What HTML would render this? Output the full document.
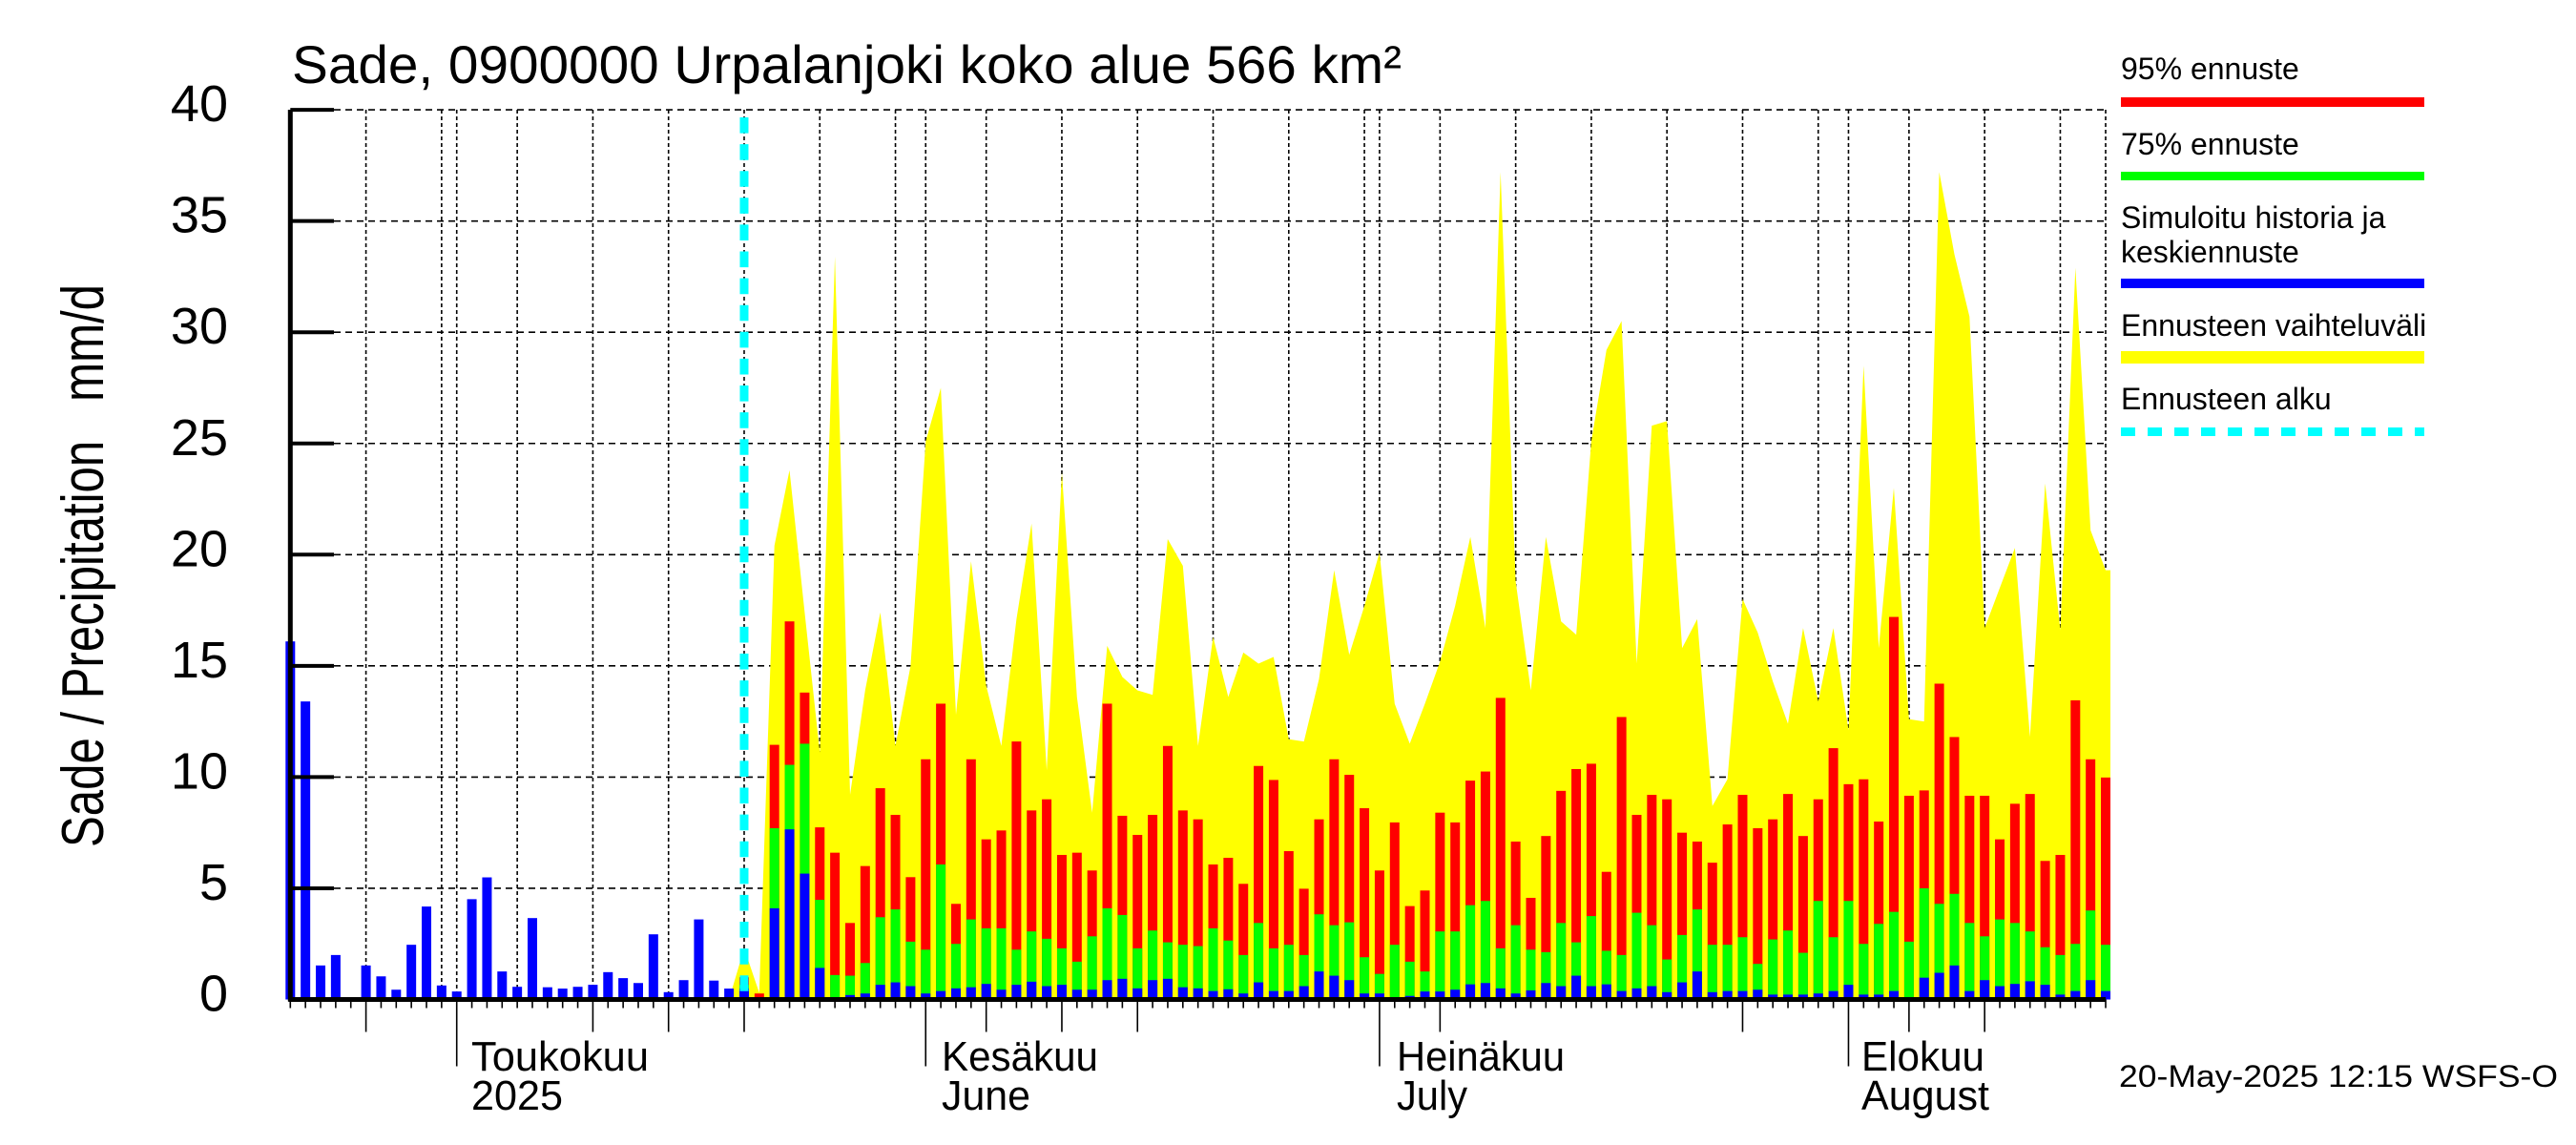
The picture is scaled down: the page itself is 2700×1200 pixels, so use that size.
<!DOCTYPE html>
<html><head><meta charset="utf-8"><style>
html,body{margin:0;padding:0;background:#fff;}
svg{display:block;font-family:"Liberation Sans",sans-serif;}
</style></head><body>
<svg id="chart" width="2700" height="1200" viewBox="0 0 2700 1200" xmlns="http://www.w3.org/2000/svg">
<rect x="0" y="0" width="2700" height="1200" fill="#fff"/>
<text x="306" y="87" font-size="56" textLength="1163" lengthAdjust="spacingAndGlyphs">Sade, 0900000 Urpalanjoki koko alue 566 km²</text>
<text x="0" y="0" font-size="62" text-anchor="middle" textLength="590" lengthAdjust="spacingAndGlyphs" style="white-space:pre" xml:space="preserve" transform="translate(108,593) rotate(-90)">Sade / Precipitation   mm/d</text>
<g id="grid"></g>
<g id="marks"></g>
<g id="axes"></g>
<g>
<text x="2223" y="83" font-size="32">95% ennuste</text>
<rect x="2223" y="102" width="318" height="10" fill="#ff0000"/>
<text x="2223" y="162" font-size="32">75% ennuste</text>
<rect x="2223" y="180" width="318" height="9" fill="#00ff00"/>
<text x="2223" y="239" font-size="32">Simuloitu historia ja</text>
<text x="2223" y="275" font-size="32">keskiennuste</text>
<rect x="2223" y="292" width="318" height="10" fill="#0000ff"/>
<text x="2223" y="352" font-size="32">Ennusteen vaihteluväli</text>
<rect x="2223" y="368" width="318" height="13" fill="#ffff00"/>
<text x="2223" y="429" font-size="32">Ennusteen alku</text>
<line x1="2223" y1="452.5" x2="2541" y2="452.5" stroke="#00ffff" stroke-width="9" stroke-dasharray="15 13"/>
</g>
<g>
<text x="494" y="1122" font-size="44" textLength="186" lengthAdjust="spacingAndGlyphs">Toukokuu</text>
<text x="494" y="1163" font-size="44" textLength="96" lengthAdjust="spacingAndGlyphs">2025</text>
<text x="987" y="1122" font-size="44" textLength="164" lengthAdjust="spacingAndGlyphs">Kesäkuu</text>
<text x="987" y="1163" font-size="44" textLength="93" lengthAdjust="spacingAndGlyphs">June</text>
<text x="1464" y="1122" font-size="44" textLength="176" lengthAdjust="spacingAndGlyphs">Heinäkuu</text>
<text x="1464" y="1163" font-size="44" textLength="74" lengthAdjust="spacingAndGlyphs">July</text>
<text x="1951" y="1122" font-size="44" textLength="129" lengthAdjust="spacingAndGlyphs">Elokuu</text>
<text x="1951" y="1163" font-size="44" textLength="134" lengthAdjust="spacingAndGlyphs">August</text>
</g>
<text x="2221" y="1139" font-size="32" textLength="460" lengthAdjust="spacingAndGlyphs">20-May-2025 12:15 WSFS-O</text>
</svg>
<script>
const history = [16.1,13.4,1.53,2.0,0,1.53,1.04,0.44,2.46,4.18,0.63,0.36,4.51,5.49,1.26,0.57,3.66,0.55,0.49,0.57,0.66,1.23,0.96,0.74,2.93,0.33,0.87,3.6,0.85,0.49];
const forecastStart = 30;
const fcRed = [1.0,0.27,11.45,17.0,13.8,7.74,6.6,3.44,6.0,9.5,8.3,5.5,10.8,13.3,4.3,10.8,7.2,7.6,11.6,8.5,9.0,6.5,6.6,5.8,13.3,8.26,7.4,8.3,11.4,8.5,8.1,6.07,6.37,5.2,10.5,9.87,6.67,4.98,8.1,10.8,10.1,8.6,5.8,7.96,4.2,4.9,8.4,7.96,9.84,10.25,13.56,7.1,4.57,7.35,9.38,10.36,10.6,5.74,12.7,8.3,9.2,9.0,7.5,7.1,6.15,7.87,9.2,7.7,8.1,9.24,7.35,9.0,11.3,9.68,9.9,8.0,17.2,9.16,9.4,14.2,11.8,9.16,9.16,7.2,8.8,9.24,6.23,6.5,13.45,10.8,9.98];
const fcGreen = [0.66,0,7.7,10.55,11.5,4.48,1.1,1.07,1.64,3.7,4.05,2.6,2.24,6.07,2.5,3.6,3.2,3.2,2.24,3.06,2.73,2.3,1.7,2.84,4.1,3.8,2.3,3.1,2.57,2.46,2.4,3.2,2.65,2.0,3.44,2.3,2.46,2.0,3.83,3.34,3.47,1.9,1.15,2.46,1.7,1.26,3.06,3.06,4.24,4.43,2.3,3.34,2.24,2.13,3.44,2.57,3.75,2.19,2.0,3.9,3.34,1.8,2.9,4.05,2.46,2.46,2.8,1.6,2.7,3.1,2.1,4.43,2.8,4.43,2.5,3.4,3.94,2.6,5.0,4.3,4.75,3.44,2.84,3.6,3.44,3.06,2.35,2.0,2.5,4.0,2.46];
const fcBlue = [0.5,0,4.1,7.65,5.66,1.42,0.05,0.2,0.27,0.66,0.77,0.6,0.27,0.38,0.5,0.55,0.7,0.44,0.66,0.8,0.6,0.66,0.44,0.44,0.87,0.93,0.5,0.87,0.93,0.55,0.5,0.38,0.46,0.27,0.77,0.38,0.38,0.6,1.26,1.07,0.87,0.27,0.27,0.1,0.16,0.36,0.36,0.44,0.68,0.74,0.5,0.27,0.41,0.74,0.6,1.07,0.6,0.68,0.38,0.5,0.6,0.33,0.77,1.26,0.33,0.38,0.38,0.44,0.22,0.22,0.22,0.27,0.38,0.66,0.22,0.22,0.38,0.1,0.98,1.2,1.53,0.38,0.87,0.6,0.7,0.82,0.66,0.22,0.38,0.87,0.38];
const fcYellow = [2.3,0.3,20.4,23.8,17.4,11.1,33.4,9.2,13.9,17.4,11.4,15.0,25.1,27.5,12.8,19.7,14.1,11.4,17.1,21.4,10.3,23.7,13.6,8.4,15.9,14.5,13.9,13.7,20.7,19.5,11.4,16.3,13.6,15.6,15.1,15.4,11.7,11.6,14.4,19.3,15.5,17.7,20.1,13.3,11.5,13.3,15.2,17.7,20.8,16.7,37.2,18.8,13.9,20.8,17.0,16.4,25.1,29.2,30.5,15.1,25.8,26.0,15.8,17.1,8.7,9.9,18.0,16.5,14.3,12.4,16.7,13.4,16.7,12.1,28.5,15.8,23.0,12.6,12.5,37.2,33.5,30.7,16.7,18.5,20.3,11.8,23.2,16.6,32.9,21.1,19.3];
const yTicks = [0,5,10,15,20,25,30,35,40];
const gridDays = [5,10,11,15,20,25,30,35,40,42,46,51,56,61,66,71,72,76,81,86,91,96,101,103,107,112,117];
const midTickDays = [5,20,25,30,46,51,56,76,96,107,112];
const monthDays = [11,42,72,103];
const nDays = 121;

const NS = "http://www.w3.org/2000/svg";
const X0 = 304.3, DX = 15.856, Y0 = 1047.5, DY = 23.31, XR = 2207, YT = 115;
function xs(i){ return X0 + i*DX; }
function ys(v){ return Y0 - v*DY; }
function mk(tag, attrs, parent){
  const e = document.createElementNS(NS, tag);
  for (const k in attrs) e.setAttribute(k, attrs[k]);
  parent.appendChild(e);
  return e;
}
const grid = document.getElementById('grid');
const marks = document.getElementById('marks');
const axes = document.getElementById('axes');

yTicks.forEach(function(v){
  const y = ys(v);
  if (v > 0) {
    const g = mk('line', {x1:350, y1:y, x2:XR, y2:y, stroke:'#000', 'stroke-width':1.6, 'stroke-dasharray':'7 5'}, grid);
    
    
  }
  const t = mk('line', {x1:X0, y1:y, x2:350, y2:y, stroke:'#000', 'stroke-width':4}, axes);
  
  
  const lb = mk('text', {x:239, y:y+12, 'font-size':54, 'text-anchor':'end'}, axes);
  lb.textContent = String(v);
  
  
});
gridDays.forEach(function(d){
  const x = xs(d);
  const g = mk('line', {x1:x, y1:YT, x2:x, y2:Y0, stroke:'#000', 'stroke-width':1.6, 'stroke-dasharray':'4 3'}, grid);
  
  
});
const rb = mk('line', {x1:XR, y1:YT, x2:XR, y2:Y0, stroke:'#000', 'stroke-width':1.6, 'stroke-dasharray':'4 3'}, grid);



let pts = [[xs(forecastStart-1), ys(0)]];
fcYellow.forEach(function(v, k){ pts.push([xs(forecastStart+k), ys(v)]); });
pts.push([xs(forecastStart+fcYellow.length-1)+5, ys(fcYellow[fcYellow.length-1])]);
pts.push([xs(forecastStart+fcYellow.length-1)+5, ys(0)]);
const area = mk('polygon', {points: pts.map(p => p[0].toFixed(1)+','+p[1].toFixed(1)).join(' '), fill:'#ffff00'}, marks);



const BW = 10;
function bar(i, v, color, name){
  if (v <= 0) return;
  const r = mk('rect', {x:xs(i)-BW/2, y:ys(v), width:BW, height:v*DY, fill:color}, marks);
  
  
}
history.forEach(function(v, i){ bar(i, v, '#0000ff', 'history-bar'); });
for (let k = 0; k < fcRed.length; k++) {
  const i = forecastStart + k;
  bar(i, fcRed[k], '#ff0000', 'forecast-95-bar');
  bar(i, fcGreen[k], '#00ff00', 'forecast-75-bar');
  bar(i, fcBlue[k], '#0000ff', 'forecast-median-bar');
}
const fl = mk('line', {x1:xs(forecastStart), y1:123, x2:xs(forecastStart), y2:Y0, stroke:'#00ffff', 'stroke-width':9, 'stroke-dasharray':'16.6 11.5'}, marks);



const ya = mk('line', {x1:X0, y1:YT, x2:X0, y2:Y0+2, stroke:'#000', 'stroke-width':5}, axes);


const xa = mk('line', {x1:X0-2, y1:Y0, x2:XR, y2:Y0, stroke:'#000', 'stroke-width':5}, axes);


for (let i = 0; i < nDays; i++) {
  let len = 9;
  if (midTickDays.indexOf(i) >= 0) len = 34;
  if (monthDays.indexOf(i) >= 0) len = 70;
  const t = mk('line', {x1:xs(i), y1:Y0, x2:xs(i), y2:Y0+len, stroke:'#000', 'stroke-width':1.6}, axes);
  
  
}
</script>
</body></html>
